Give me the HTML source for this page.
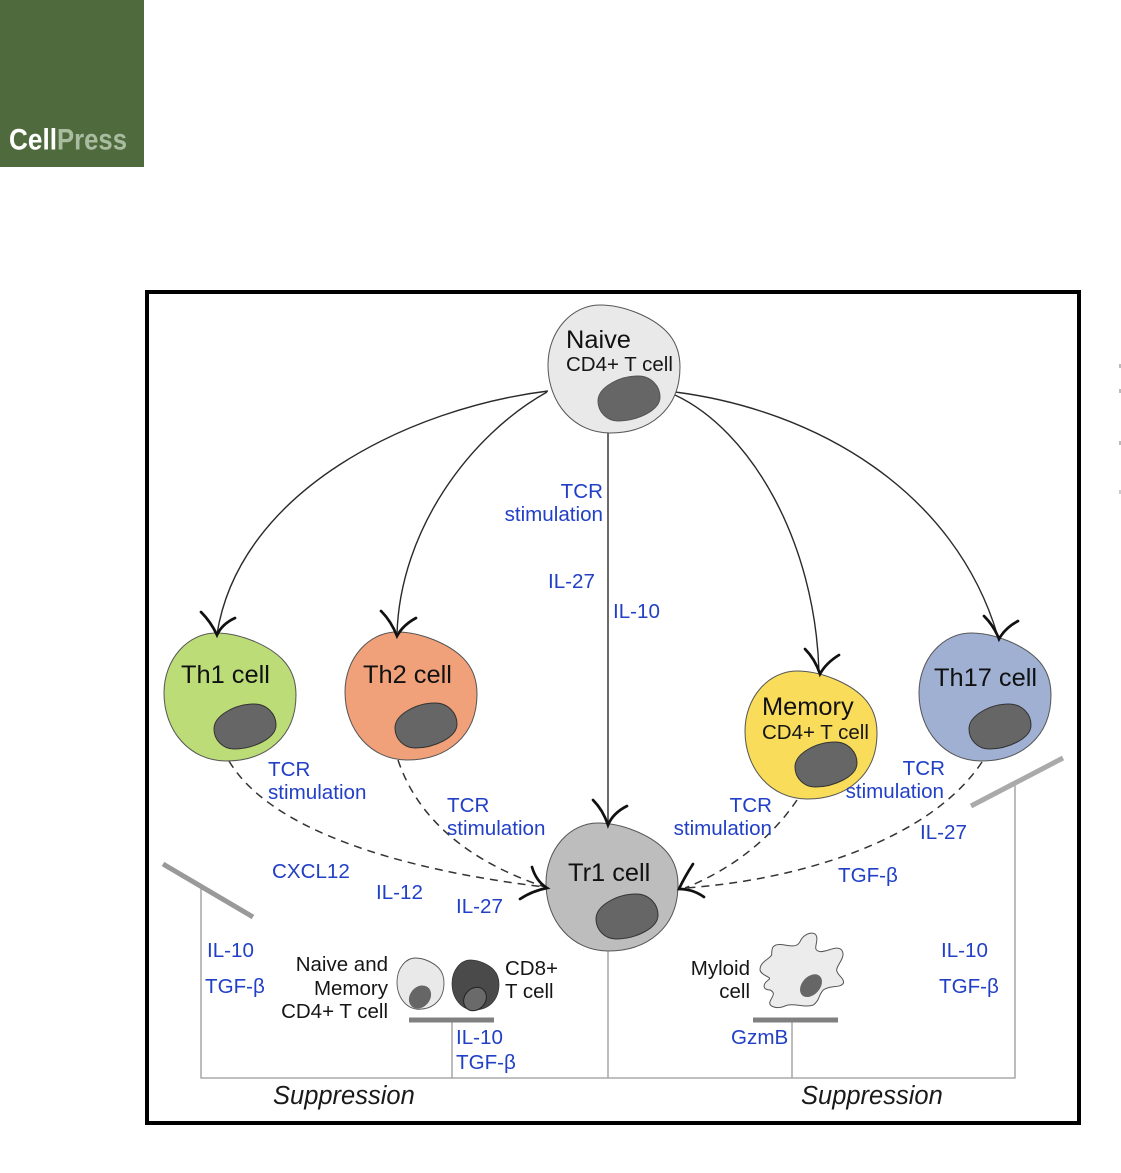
<!DOCTYPE html>
<html>
<head>
<meta charset="utf-8">
<style>
html,body{margin:0;padding:0;background:#fff;width:1121px;height:1173px;overflow:hidden}
svg{display:block}
text{font-family:"Liberation Sans",sans-serif}
.b{fill:#2240c6;font-size:20.6px}
.k{fill:#161616;font-size:20.5px}
.t{fill:#111;font-size:25.4px}
.s{fill:#1a1a1a;font-size:25.5px;font-style:italic}
.cell{stroke:#555;stroke-width:1}
.nuc{fill:#666;stroke:#333;stroke-width:1}
.arrow{fill:none;stroke:#2a2a2a;stroke-width:1.4}
.head{fill:none;stroke:#111;stroke-width:2.7;stroke-linecap:round;stroke-linejoin:miter}
.dash{fill:none;stroke:#333;stroke-width:1.5;stroke-dasharray:8 6}
.line{stroke:#999;stroke-width:1.3;fill:none}
</style>
</head>
<body>
<svg width="1121" height="1173" viewBox="0 0 1121 1173" xmlns="http://www.w3.org/2000/svg">
<defs>
<path id="c" d="M52 0C76 0 104 12 118 26C128 36 132 48 132 62C132 104 102 128 62 128C26 128 0 98 0 60C0 26 24 0 52 0Z"/>
<path id="n" d="M50 96C50 82 72 71 90 71C103 71 112 81 112 92C112 106 88 116 70 116C59 116 50 107 50 96Z"/>
</defs>

<rect x="0" y="0" width="144" height="167" fill="#4f6b3e"/>
<text x="9" y="149.5" font-size="30" font-weight="bold" fill="#fff" textLength="48" lengthAdjust="spacingAndGlyphs">Cell</text>
<text x="57" y="149.5" font-size="30" font-weight="bold" fill="#a9bc9f" textLength="70" lengthAdjust="spacingAndGlyphs">Press</text>

<rect x="147" y="292" width="932" height="831" fill="#fff" stroke="#000" stroke-width="4"/>

<rect x="1119" y="364" width="2" height="4" fill="#bbb"/>
<rect x="1119" y="389" width="2" height="4" fill="#bbb"/>
<rect x="1119" y="441" width="2" height="4" fill="#bbb"/>
<rect x="1119" y="490" width="2" height="4" fill="#ccc"/>

<!-- solid connectors -->
<path class="arrow" d="M548 391C410 408 240 490 217 634"/>
<path class="arrow" d="M547 392C470 435 400 530 397 634"/>
<path class="arrow" d="M675 395C750 430 815 540 819 672"/>
<path class="arrow" d="M675 392C815 410 955 490 998 637"/>
<path class="arrow" d="M608 433V824"/>

<!-- dashed connectors -->
<path class="dash" d="M229 761C270 830 400 870 545 887"/>
<path class="dash" d="M398 760C418 820 470 862 545 887"/>
<path class="dash" d="M797 800C770 840 730 870 685 888"/>
<path class="dash" d="M982 762C930 840 800 880 685 888"/>

<!-- suppression lines -->
<path class="line" d="M201 887V1078H1015V785"/>
<path class="line" d="M608 951V1078"/>
<path class="line" d="M452 1020V1078"/>
<path class="line" d="M792 1020V1078"/>
<path d="M163 864L253 917" stroke="#999" stroke-width="5" fill="none"/>
<path d="M971 806L1063 758" stroke="#aaa" stroke-width="5" fill="none"/>
<path d="M409 1020H494" stroke="#808080" stroke-width="5" fill="none"/>
<path d="M753 1020H838" stroke="#808080" stroke-width="5" fill="none"/>

<!-- cells -->
<g transform="translate(548,305)"><use href="#c" class="cell" fill="#e9e9e9"/><use href="#n" class="nuc" style="stroke:#555"/></g>
<g transform="translate(164,633)"><use href="#c" class="cell" fill="#bcdc78"/><use href="#n" class="nuc"/></g>
<g transform="translate(345,632)"><use href="#c" class="cell" fill="#f0a17a"/><use href="#n" class="nuc"/></g>
<g transform="translate(745,671)"><use href="#c" class="cell" fill="#f8dc5a"/><use href="#n" class="nuc"/></g>
<g transform="translate(919,633)"><use href="#c" class="cell" fill="#9fb0d3"/><use href="#n" class="nuc"/></g>
<g transform="translate(546,823)"><use href="#c" class="cell" fill="#bdbdbd"/><use href="#n" class="nuc"/></g>

<!-- small cells -->
<g transform="translate(397,958) scale(.356,.4)"><use href="#c" fill="#e9e9e9" stroke="#555" stroke-width="2.5"/></g>
<ellipse cx="420" cy="997" rx="12.5" ry="10" fill="#666" transform="rotate(-50 420 997)"/>
<g transform="translate(452,960) scale(.356,.39)"><use href="#c" fill="#4a4a4a" stroke="#333" stroke-width="2"/></g>
<ellipse cx="475" cy="999" rx="12.5" ry="10.5" fill="#6a6a6a" stroke="#222" stroke-width="1" transform="rotate(-50 475 999)"/>

<g transform="translate(680,900) scale(.3333)">
<path d="M280 140C300 120 345 155 360 125C370 100 405 90 410 110C415 130 395 150 420 155C445 155 470 135 485 150C500 170 470 195 470 210C470 225 495 235 490 250C480 265 450 255 430 270C415 285 420 300 400 315C370 325 340 305 310 320C290 327 265 320 270 305C275 290 290 280 270 270C250 270 245 255 265 240C280 230 245 230 240 210C240 185 265 180 275 165C275 155 275 145 280 140Z" fill="#ececec" stroke="#555" stroke-width="3"/>
<ellipse cx="393" cy="257" rx="39" ry="27" fill="#666" transform="rotate(-48 393 257)"/>
</g>

<!-- arrowheads -->
<path class="head" d="M201 612Q211 622 217 635Q222 624 235 618"/>
<path class="head" d="M381 611Q391 621 397 636Q403 625 416 618"/>
<path class="head" d="M805 649Q815 659 820 674Q826 663 839 655"/>
<path class="head" d="M984 616Q994 626 999 639Q1005 628 1018 621"/>
<path class="head" d="M593 800Q603 810 608 825Q613 813 627 806"/>
<path class="head" d="M532 867Q536 881 547 888Q532 891 520 899"/>
<path class="head" d="M693 864Q684 878 679 889Q693 889 704 897"/>

<!-- black titles -->
<text class="t" x="566" y="348">Naive</text>
<text class="k" x="566" y="371">CD4+ T cell</text>
<text class="t" x="181" y="683">Th1 cell</text>
<text class="t" x="363" y="683">Th2 cell</text>
<text class="t" x="762" y="715">Memory</text>
<text class="k" x="762" y="739">CD4+ T cell</text>
<text class="t" x="934" y="686">Th17 cell</text>
<text class="t" x="568" y="881">Tr1 cell</text>
<text class="k" x="388" y="971" text-anchor="end">Naive and</text>
<text class="k" x="388" y="995" text-anchor="end">Memory</text>
<text class="k" x="388" y="1018" text-anchor="end">CD4+ T cell</text>
<text class="k" x="505" y="975">CD8+</text>
<text class="k" x="505" y="998">T cell</text>
<text class="k" x="750" y="975" text-anchor="end">Myloid</text>
<text class="k" x="750" y="998" text-anchor="end">cell</text>
<text class="s" x="273" y="1104">Suppression</text>
<text class="s" x="801" y="1104">Suppression</text>

<!-- blue labels -->
<text class="b" x="603" y="498" text-anchor="end">TCR</text>
<text class="b" x="603" y="521" text-anchor="end">stimulation</text>
<text class="b" x="548" y="588">IL-27</text>
<text class="b" x="613" y="618">IL-10</text>
<text class="b" x="268" y="776">TCR</text>
<text class="b" x="268" y="799">stimulation</text>
<text class="b" x="447" y="812">TCR</text>
<text class="b" x="447" y="835">stimulation</text>
<text class="b" x="772" y="812" text-anchor="end">TCR</text>
<text class="b" x="772" y="835" text-anchor="end">stimulation</text>
<text class="b" x="945" y="775" text-anchor="end">TCR</text>
<text class="b" x="944" y="798" text-anchor="end">stimulation</text>
<text class="b" x="920" y="839">IL-27</text>
<text class="b" x="838" y="882">TGF-β</text>
<text class="b" x="272" y="878">CXCL12</text>
<text class="b" x="376" y="899">IL-12</text>
<text class="b" x="456" y="913">IL-27</text>
<text class="b" x="207" y="957">IL-10</text>
<text class="b" x="205" y="993">TGF-β</text>
<text class="b" x="941" y="957">IL-10</text>
<text class="b" x="939" y="993">TGF-β</text>
<text class="b" x="456" y="1044">IL-10</text>
<text class="b" x="456" y="1069">TGF-β</text>
<text class="b" x="731" y="1044">GzmB</text>
</svg>
</body>
</html>
